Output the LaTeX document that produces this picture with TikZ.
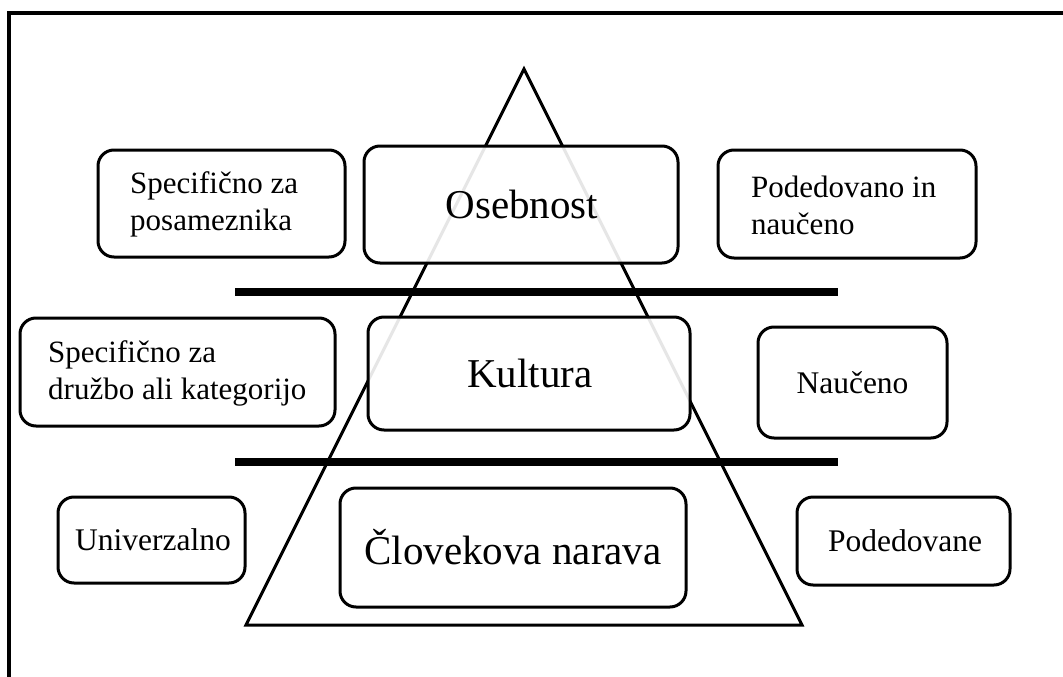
\documentclass[tikz,border=0pt]{standalone}
\usepackage{fontspec}
\setmainfont{Liberation Serif}
\begin{document}
\begin{tikzpicture}[x=1pt,y=-1pt,
  rbox/.style={draw=black,line width=3pt,rounded corners=16pt,fill=white,fill opacity=0.9},
  bigtext/.style={font=\fontsize{41}{47}\selectfont,inner sep=0pt},
  midtext/.style={font=\fontsize{31.5}{35}\selectfont,inner sep=0pt},
  smalltext/.style={font=\fontsize{31}{37}\selectfont,inner sep=0pt,align=left,anchor=west},
  bar/.style={line width=8pt}]
\useasboundingbox (0,0) rectangle (1063,677);
\fill[white] (0,0) rectangle (1063,677);
% frame (left and top)
\draw[line width=4pt] (9,677) -- (9,13) -- (1063,13);
% pyramid
\coordinate (apex) at (524,69);
\coordinate (bl) at (246,625);
\coordinate (br) at (802,625);
\draw[line width=3pt,line join=miter] (apex) -- (bl) -- (br) -- cycle;
% bars
\coordinate (b1l) at (235,292); \coordinate (b1r) at (838,292);
\coordinate (b2l) at (235,462); \coordinate (b2r) at (838,462);
\draw[bar] (b1l) -- (b1r);
\draw[bar] (b2l) -- (b2r);
% central boxes
\draw[rbox] (364,146) rectangle (678,263);
\node[bigtext] (oseb) at (522,204.5) {Osebnost};
\draw[rbox] (368,317) rectangle (690,430);
\node[bigtext] (kult) at (530,373.5) {Kultura};
\draw[rbox] (340,488) rectangle (686,607);
\node[bigtext] (clov) at (513,547.5) {Človekova narava};
% side boxes
\draw[rbox] (98,150) rectangle (345,257);
\node[smalltext] (spec1) at (130,204.5) {Specifično za\\posameznika};
\draw[rbox] (718,150) rectangle (976,258);
\node[smalltext] (pod1) at (751,205) {Podedovano in\\naučeno};
\draw[rbox] (20,318) rectangle (335,426);
\node[smalltext] (spec2) at (48,373) {Specifično za\\družbo ali kategorijo};
\draw[rbox] (758,327) rectangle (947,438);
\node[midtext] (nauc) at (852.5,382.5) {Naučeno};
\draw[rbox] (58,497) rectangle (245,583);
\node[midtext] (univ) at (153,540) {Univerzalno};
\draw[rbox] (797,497) rectangle (1010,585);
\node[midtext] (podv) at (905,541) {Podedovane};
\end{tikzpicture}
\end{document}
